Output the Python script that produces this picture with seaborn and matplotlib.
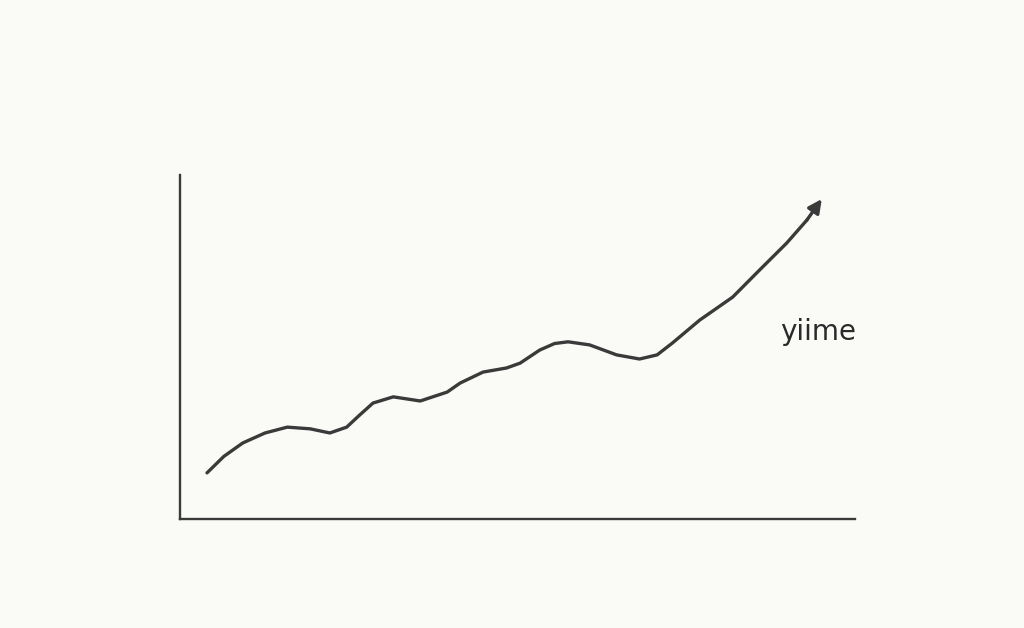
import os

os.environ.setdefault("MPLBACKEND", "Agg")

import matplotlib.pyplot as plt
import pandas as pd
import seaborn as sns

# hand-drawn trend, values (x: time, y: level, 0-100)
time = [4.0, 6.5, 9.3, 12.6, 15.9, 19.3, 22.2, 24.7, 26.5, 28.6, 31.6, 35.6,
        39.6, 41.5, 44.9, 48.4, 50.4, 53.3, 55.5, 57.5, 60.7, 64.7, 68.1, 70.7,
        73.0, 77.0, 81.9, 85.9, 89.9, 92.9, 95.1]
level = [13.4, 18.2, 22.1, 25.0, 26.7, 26.2, 25.0, 26.7, 30.0, 33.7, 35.5, 34.3,
         36.9, 39.5, 42.7, 43.9, 45.3, 49.1, 51.0, 51.5, 50.6, 47.7, 46.5, 47.7,
         51.2, 57.8, 64.5, 72.4, 80.2, 86.9, 93.0]
label_text = "yiime"
label_pos = (94.5, 54.4)

INK = "#3a3a3a"
PAPER = "#fafaf7"

sns.set_theme(style="white")
plt.rcParams["font.family"] = ["DejaVu Sans"]


def main() -> None:
    data = pd.DataFrame({"time": time, "level": level})

    fig = plt.figure(figsize=(10.24, 6.28), dpi=100, facecolor=PAPER)
    ax = fig.add_axes([0.1758, 0.1736, 0.659, 0.5478], facecolor=PAPER)

    sns.lineplot(data=data.iloc[:-1], x="time", y="level", ax=ax, color=INK,
                 linewidth=2.4, sort=False, solid_joinstyle="round",
                 solid_capstyle="round")
    # arrowhead on the last segment
    ax.annotate("", xy=(time[-1], level[-1]), xytext=(time[-2], level[-2]),
                arrowprops=dict(arrowstyle="-|>", color=INK, lw=2.4,
                                mutation_scale=20, shrinkA=0, shrinkB=0))

    ax.text(*label_pos, label_text, ha="center", va="center",
            fontsize=20, color="#2a2a2a")

    ax.set_xlim(0, 100)
    ax.set_ylim(0, 100)
    ax.set(xticks=[], yticks=[], xlabel="", ylabel="")
    for side in ("top", "right"):
        ax.spines[side].set_visible(False)
    for side in ("left", "bottom"):
        ax.spines[side].set_color(INK)
        ax.spines[side].set_linewidth(1.7)

    fig.savefig("out.png", dpi=100, facecolor=PAPER)
    plt.close(fig)


if __name__ == "__main__":
    main()
